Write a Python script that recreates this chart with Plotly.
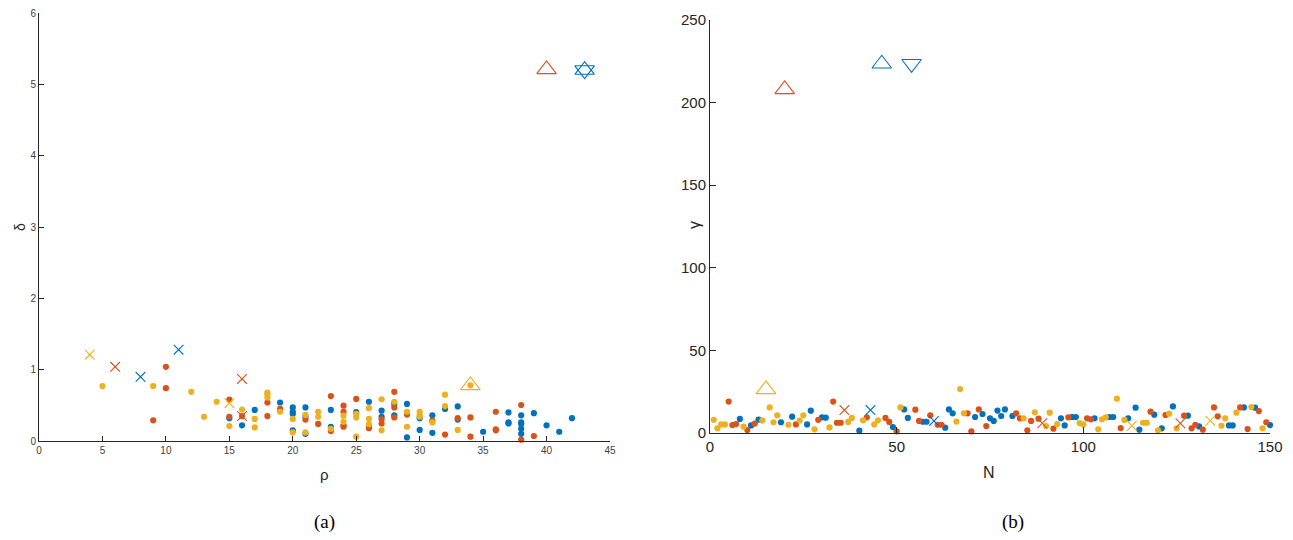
import plotly.graph_objects as go

BLUE = "#0072BD"
RED = "#D95319"
YEL = "#EDB120"
TXT = "#262626"

# ---------------- Panel (a): rho vs delta ----------------
a_blue_rho = [15, 16, 17, 19, 20, 20, 20, 20, 21, 21, 21, 23, 23, 25, 26, 27, 27, 28, 28, 29, 29,
              30, 30, 31, 31, 32, 33, 33, 35, 37, 37, 37, 38, 38, 38, 38, 38, 39, 40, 41, 42]
a_blue_delta = [0.32, 0.22, 0.435, 0.54, 0.47, 0.41, 0.38, 0.15, 0.47, 0.34, 0.10, 0.435, 0.20, 0.405,
                0.55, 0.425, 0.34, 0.52, 0.36, 0.52, 0.05, 0.32, 0.155, 0.36, 0.115, 0.45, 0.485, 0.30,
                0.13, 0.40, 0.26, 0.245, 0.36, 0.26, 0.24, 0.17, 0.10, 0.39, 0.22, 0.13, 0.32]

a_red_rho = [9, 10, 10, 15, 15, 16, 18, 18, 19, 21, 22, 23, 23, 24, 24, 24, 24, 25, 26, 26, 27, 27,
             28, 28, 28, 29, 31, 32, 33, 34, 34, 36, 36, 36, 38, 38, 39]
a_red_delta = [0.29, 1.04, 0.74, 0.58, 0.34, 0.35, 0.54, 0.35, 0.45, 0.30, 0.24, 0.63, 0.14, 0.495,
               0.41, 0.22, 0.20, 0.59, 0.21, 0.18, 0.305, 0.245, 0.69, 0.47, 0.33, 0.37, 0.285, 0.09,
               0.32, 0.33, 0.06, 0.41, 0.165, 0.15, 0.505, 0.02, 0.07]

a_yel_rho = [5, 9, 12, 13, 14, 15, 16, 17, 17, 18, 18, 18, 19, 20, 20, 21, 21, 22, 22, 23, 24, 24,
             25, 25, 25, 26, 26, 26, 27, 27, 28, 29, 29, 30, 30, 30, 31, 32, 32, 33, 34]
a_yel_delta = [0.77, 0.77, 0.69, 0.34, 0.55, 0.21, 0.44, 0.31, 0.19, 0.68, 0.655, 0.61, 0.41, 0.31,
               0.12, 0.365, 0.12, 0.41, 0.34, 0.17, 0.355, 0.27, 0.38, 0.33, 0.06, 0.46, 0.31, 0.235,
               0.585, 0.15, 0.55, 0.41, 0.20, 0.41, 0.365, 0.34, 0.26, 0.65, 0.49, 0.155, 0.78]

# cross markers (panel a)
a_x_yel_rho, a_x_yel_delta = [4, 15], [1.21, 0.53]
a_x_red_rho, a_x_red_delta = [6, 16, 16], [1.04, 0.87, 0.35]
a_x_blue_rho, a_x_blue_delta = [8, 11], [0.90, 1.28]

# triangle markers (panel a)
a_tri_red_rho, a_tri_red_delta = [40], [5.21]
a_tri_blue_rho, a_tri_blue_delta = [43], [5.20]
a_tri_yel_rho, a_tri_yel_delta = [34], [0.78]

# ---------------- Panel (b): N vs gamma ----------------
b_blue_n = [8, 11, 13, 19, 22, 26, 27, 30, 31, 40, 49, 52, 53, 57, 58, 63, 64, 65, 71, 73, 75, 76, 77,
            78, 79, 81, 94, 95, 97, 98, 103, 107, 108, 112, 114, 115, 119, 121, 124, 128, 131, 139,
            140, 143, 146, 150]
b_blue_g = [8.5, 4.6, 8.1, 6.5, 9.9, 5.2, 13.5, 9.5, 9.3, 1.4, 3.6, 14.3, 9.1, 6.8, 6.8, 3.2, 14.3,
            11.9, 9.7, 11.5, 8.9, 7.3, 13.6, 10.3, 14.3, 10.3, 8.9, 4.6, 9.7, 9.7, 8.9, 9.7, 9.7, 8.9,
            15.3, 2.0, 11.1, 2.8, 16.1, 10.5, 4.0, 4.6, 4.6, 15.5, 15.3, 4.8]

b_red_n = [5, 6, 7, 10, 12, 23, 29, 33, 34, 35, 42, 47, 48, 50, 55, 56, 59, 61, 62, 69, 70, 72, 74,
           82, 83, 85, 86, 88, 92, 96, 101, 102, 110, 118, 122, 127, 129, 130, 132, 135, 136, 142,
           144, 147, 149]
b_red_g = [19.0, 4.8, 5.4, 1.8, 5.7, 5.2, 8.0, 19.0, 6.2, 6.2, 9.5, 9.1, 6.7, 1.0, 14.1, 7.3, 10.7,
           5.0, 5.0, 11.9, 1.0, 14.3, 4.2, 11.9, 8.9, 1.6, 7.3, 8.7, 2.6, 9.5, 8.9, 8.3, 3.0, 12.9,
           10.9, 10.5, 2.8, 5.0, 2.0, 15.5, 10.1, 15.5, 2.4, 13.3, 6.5]

b_yel_n = [1, 2, 3, 4, 9, 14, 16, 17, 18, 21, 24, 25, 28, 32, 37, 38, 41, 44, 45, 51, 66, 67, 68, 84,
           87, 90, 91, 93, 99, 100, 104, 105, 106, 109, 111, 116, 117, 120, 123, 125, 137, 138, 141,
           145, 148]
b_yel_g = [8.0, 2.8, 5.2, 5.2, 3.8, 7.5, 15.5, 6.5, 10.7, 5.0, 7.5, 10.7, 2.2, 3.4, 6.7, 9.1, 7.7,
           5.2, 7.7, 15.5, 6.9, 26.6, 11.9, 8.9, 12.5, 4.2, 12.3, 5.4, 6.0, 5.2, 2.2, 8.3, 9.5, 20.8,
           7.9, 6.2, 6.2, 1.6, 11.7, 2.8, 4.4, 8.9, 12.3, 15.7, 2.8]

# cross markers (panel b)
b_x_red_n, b_x_red_g = [36, 89, 126], [13.9, 5.9, 5.9]
b_x_blue_n, b_x_blue_g = [43, 60], [13.9, 7.3]
b_x_yel_n, b_x_yel_g = [113, 134], [4.4, 7.4]

# triangle markers (panel b)
b_tri_red_n, b_tri_red_g = [20], [208]
b_tri_blue_up_n, b_tri_blue_up_g = [46], [223.5]
b_tri_blue_dn_n, b_tri_blue_dn_g = [54], [223.5]
b_tri_yel_n, b_tri_yel_g = [15], [26.4]

DOT = 6.2
XS = 9.6
TRI = 17

fig = go.Figure()


def dots(x, y, color, xa, ya):
    fig.add_trace(go.Scatter(x=x, y=y, mode="markers", xaxis=xa, yaxis=ya, cliponaxis=False,
                             marker=dict(symbol="circle", size=DOT, color=color, line=dict(width=0)),
                             showlegend=False, hoverinfo="x+y"))


def marks(x, y, color, symbol, size, xa, ya):
    fig.add_trace(go.Scatter(x=x, y=y, mode="markers", xaxis=xa, yaxis=ya, cliponaxis=False,
                             marker=dict(symbol=symbol, size=size, color=color,
                                         line=dict(width=1.1, color=color)),
                             showlegend=False, hoverinfo="x+y"))


# panel a
dots(a_blue_rho, a_blue_delta, BLUE, "x", "y")
dots(a_red_rho, a_red_delta, RED, "x", "y")
dots(a_yel_rho, a_yel_delta, YEL, "x", "y")
marks(a_x_yel_rho, a_x_yel_delta, YEL, "x-thin-open", XS, "x", "y")
marks(a_x_red_rho, a_x_red_delta, RED, "x-thin-open", XS, "x", "y")
marks(a_x_blue_rho, a_x_blue_delta, BLUE, "x-thin-open", XS, "x", "y")
marks(a_tri_red_rho, a_tri_red_delta, RED, "triangle-up-open", TRI, "x", "y")
marks(a_tri_blue_rho, a_tri_blue_delta, BLUE, "triangle-up-open", TRI, "x", "y")
marks(a_tri_blue_rho, a_tri_blue_delta, BLUE, "triangle-down-open", TRI, "x", "y")
marks(a_tri_yel_rho, a_tri_yel_delta, YEL, "triangle-up-open", TRI, "x", "y")

# panel b
dots(b_blue_n, b_blue_g, BLUE, "x2", "y2")
dots(b_red_n, b_red_g, RED, "x2", "y2")
dots(b_yel_n, b_yel_g, YEL, "x2", "y2")
marks(b_x_red_n, b_x_red_g, RED, "x-thin-open", XS, "x2", "y2")
marks(b_x_blue_n, b_x_blue_g, BLUE, "x-thin-open", XS, "x2", "y2")
marks(b_x_yel_n, b_x_yel_g, YEL, "x-thin-open", XS, "x2", "y2")
marks(b_tri_red_n, b_tri_red_g, RED, "triangle-up-open", TRI, "x2", "y2")
marks(b_tri_blue_up_n, b_tri_blue_up_g, BLUE, "triangle-up-open", TRI, "x2", "y2")
marks(b_tri_blue_dn_n, b_tri_blue_dn_g, BLUE, "triangle-down-open", TRI, "x2", "y2")
marks(b_tri_yel_n, b_tri_yel_g, YEL, "triangle-up-open", TRI, "x2", "y2")

W, H = 1293, 540
OX, OY = 7, 8  # page body offset of the rendered figure


def px(x):
    return (x - OX) / W


def py(y):
    return 1 - (y - OY) / H


axis_common = dict(showline=True, linecolor=TXT, linewidth=1, ticks="inside", tickcolor=TXT,
                   tickwidth=1, showgrid=False, zeroline=False, fixedrange=True, automargin=False,
                   ticklabeloverflow="allow")


def label(text, x, y, size, angle=0, color=TXT, family=None):
    f = dict(size=size, color=color)
    if family:
        f["family"] = family
    return dict(text=text, x=px(x), y=py(y), xref="paper", yref="paper", showarrow=False,
                xanchor="center", yanchor="middle", textangle=angle, font=f)


SERIF = "Liberation Serif, Times New Roman, serif"
fig.update_layout(
    width=W, height=H,
    margin=dict(l=0, r=0, t=0, b=0, pad=0),
    paper_bgcolor="white", plot_bgcolor="white",
    font=dict(family="Liberation Sans, Arial, sans-serif", color=TXT),
    xaxis=dict(domain=[px(38), px(609)], range=[0, 45], tickvals=list(range(0, 46, 5)),
               ticklen=5, tickfont=dict(size=10, color="#404040"), anchor="y", **axis_common),
    yaxis=dict(domain=[py(441), py(13)], range=[0, 6], tickvals=list(range(0, 7)),
               ticklen=5, tickfont=dict(size=10, color="#404040"), anchor="x", **axis_common),
    xaxis2=dict(domain=[px(709), px(1269)], range=[0, 150], tickvals=[0, 50, 100, 150],
                ticklen=6, tickfont=dict(size=15), anchor="y2", **axis_common),
    yaxis2=dict(domain=[py(433), py(20)], range=[0, 250], tickvals=list(range(0, 251, 50)),
                ticklen=6, tickfont=dict(size=15), anchor="x2", **axis_common),
    annotations=[
        label("ρ", 323, 474, 15),
        label("δ", 19, 227, 14, angle=-90),
        label("N", 988, 472, 16),
        label("γ", 693, 225, 16, angle=-90),
        label("(a)", 323, 522, 19, color="black", family=SERIF),
        label("(b)", 1012, 522, 19, color="black", family=SERIF),
    ],
)

fig.write_html("out.html")
